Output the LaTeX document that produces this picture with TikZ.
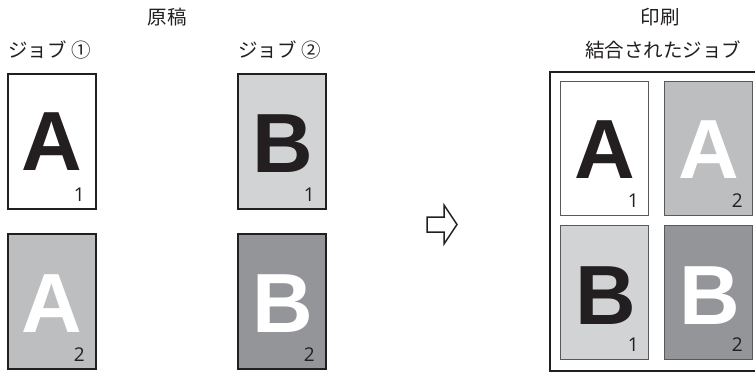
\documentclass[tikz,border=0pt]{standalone}
\usepackage{fontspec}
\setmainfont{Liberation Sans}
\newfontfamily\cjk{Noto Sans CJK JP}
\newfontfamily\numfont{Open Sans}
\usetikzlibrary{calc}
\definecolor{ink}{HTML}{231F20}
\definecolor{lightg}{HTML}{D1D3D4}
\definecolor{midg}{HTML}{BCBEC0}
\definecolor{darkg}{HTML}{939598}
\definecolor{edgeg}{HTML}{58595B}
\tikzset{
  srcpage/.style={draw=ink, line width=2pt, inner sep=0pt, minimum width=88pt, minimum height=135pt},
  outpage/.style={draw=edgeg, line width=1pt, inner sep=0pt, minimum width=88pt, minimum height=134pt},
  bigletter/.style={font=\fontsize{84}{84}\selectfont\bfseries, inner sep=0pt, anchor=base},
  pagenum/.style={font=\numfont\fontsize{19}{19}\selectfont, text=ink, inner sep=0pt, anchor=base east},
  jtext/.style={font=\cjk\fontsize{19.5}{20}\selectfont, text=ink, inner sep=0pt}
}
\begin{document}
\begin{tikzpicture}[x=1pt,y=-1pt]
\useasboundingbox (0,0) rectangle (755,372);
% headings
\node[jtext] (hsrc) at (167,17) {原稿};
\node[jtext] (hprint) at (660,17) {印刷};
\node[jtext, anchor=west] (job1) at (8,50) {ジョブ ①};
\node[jtext, anchor=west] (job2) at (238,50) {ジョブ ②};
\node[jtext] (joined) at (663,50) {結合されたジョブ};
% source pages
\node[srcpage, fill=white] (pA1) at (52,141.5) {};
\node[srcpage, fill=midg] (pA2) at (52,301.5) {};
\node[srcpage, fill=lightg] (pB1) at (282,141.5) {};
\node[srcpage, fill=darkg] (pB2) at (282,301.5) {};
\node[bigletter, text=ink] (lA1) at (52,170) {A};
\node[bigletter, text=white] (lA2) at (52,332) {A};
\node[bigletter, text=ink] (lB1) at (283,172) {B};
\node[bigletter, text=white] (lB2) at (283,332) {B};
\node[pagenum] (nA1) at (85,201) {1};
\node[pagenum] (nA2) at (85,361) {2};
\node[pagenum] (nB1) at (315,201) {1};
\node[pagenum] (nB2) at (315,361) {2};
% arrow
\draw[draw=ink, line width=1.5pt, line join=miter, fill=white]
  (427,217) -- (444,217) -- (444,205) -- (457,224.5) -- (444,244) -- (444,232) -- (427,232) -- cycle;
% combined output
\node[draw=ink, line width=2pt, inner sep=0pt, minimum width=230pt, minimum height=299pt, anchor=north west] (sheet) at (549,71) {};
\node[outpage, fill=white] (oA1) at (604.5,148.5) {};
\node[outpage, fill=midg] (oA2) at (708.5,148.5) {};
\node[outpage, fill=lightg] (oB1) at (604.5,292.5) {};
\node[outpage, fill=darkg] (oB2) at (708.5,292.5) {};
\node[bigletter, text=ink] (olA1) at (604.5,178) {A};
\node[bigletter, text=white] (olA2) at (708.5,178) {A};
\node[bigletter, text=ink] (olB1) at (605.5,324) {B};
\node[bigletter, text=white] (olB2) at (709.5,324) {B};
\node[pagenum] (onA1) at (639,207) {1};
\node[pagenum] (onA2) at (743,207) {2};
\node[pagenum] (onB1) at (639,351) {1};
\node[pagenum] (onB2) at (743,351) {2};
\end{tikzpicture}
\end{document}
